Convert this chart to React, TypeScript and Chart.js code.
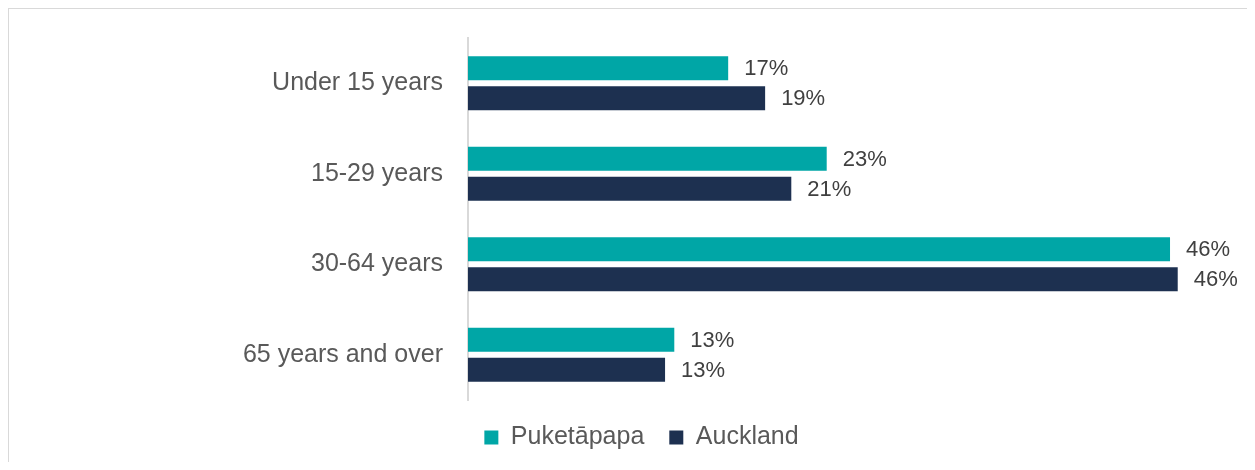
import React, { useEffect, useRef } from "react";
import { Chart, registerables } from "chart.js";

Chart.register(...registerables);

const categories = ["Under 15 years", "15-29 years", "30-64 years", "65 years and over"];
const seriesNames = ["Puketāpapa", "Auckland"];
const puketapapa = [16.9, 23.3, 45.6, 13.4];
const auckland = [19.3, 21.0, 46.1, 12.8];
const xMax = 50.6;

const TEAL = "#00A6A6";
const NAVY = "#1D3050";

const dataLabels = {
  id: "dataLabels",
  afterDatasetsDraw(chart: any) {
    const ctx = chart.ctx;
    ctx.save();
    ctx.font = "22px 'Liberation Sans', Arial, sans-serif";
    ctx.fillStyle = "#404040";
    ctx.textAlign = "left";
    ctx.textBaseline = "middle";
    chart.data.datasets.forEach((ds: any, di: number) => {
      const meta = chart.getDatasetMeta(di);
      meta.data.forEach((bar: any, i: number) => {
        const v = ds.data[i];
        ctx.fillText(Math.round(v) + "%", bar.x + 16, bar.y + 1);
      });
    });
    ctx.restore();
  },
};

export default function App() {
  const ref = useRef<HTMLCanvasElement | null>(null);
  useEffect(() => {
    if (!ref.current) return;
    Chart.defaults.font.family = "'Liberation Sans', Arial, sans-serif";
    const chart = new Chart(ref.current, {
      type: "bar",
      data: {
        labels: categories,
        datasets: [
          { label: seriesNames[0], data: puketapapa, backgroundColor: TEAL, barPercentage: 0.8, categoryPercentage: 0.663 },
          { label: seriesNames[1], data: auckland, backgroundColor: NAVY, barPercentage: 0.8, categoryPercentage: 0.663 },
        ],
      },
      options: {
        indexAxis: "y",
        responsive: false,
        animation: false,
        layout: { padding: { top: 29, left: 27, right: 0, bottom: 2 } },
        scales: {
          x: { display: false, min: 0, max: xMax },
          y: {
            grid: { display: false, drawTicks: false },
            border: { display: true, color: "#d9d9d9", width: 2 },
            ticks: { color: "#595959", font: { size: 25 }, padding: 25 },
            afterFit: (scale: any) => {
              scale.width = 432;
              scale.paddingTop = 0;
              scale.paddingBottom = 0;
            },
          },
        },
        plugins: {
          legend: {
            position: "bottom",
            labels: {
              color: "#595959",
              font: { size: 25 },
              boxWidth: 14,
              boxHeight: 14,
              padding: 25,
            },
          },
          tooltip: { enabled: false },
        },
      },
      plugins: [dataLabels],
    });
    return () => chart.destroy();
  }, []);
  return (
    <div
      style={{
        width: 1238,
        height: 453,
        borderTop: "1px solid #d9d9d9",
        borderLeft: "1px solid #d9d9d9",
        background: "#fff",
      }}
    >
      <canvas ref={ref} width={1238} height={453} style={{ display: "block" }} />
    </div>
  );
}
